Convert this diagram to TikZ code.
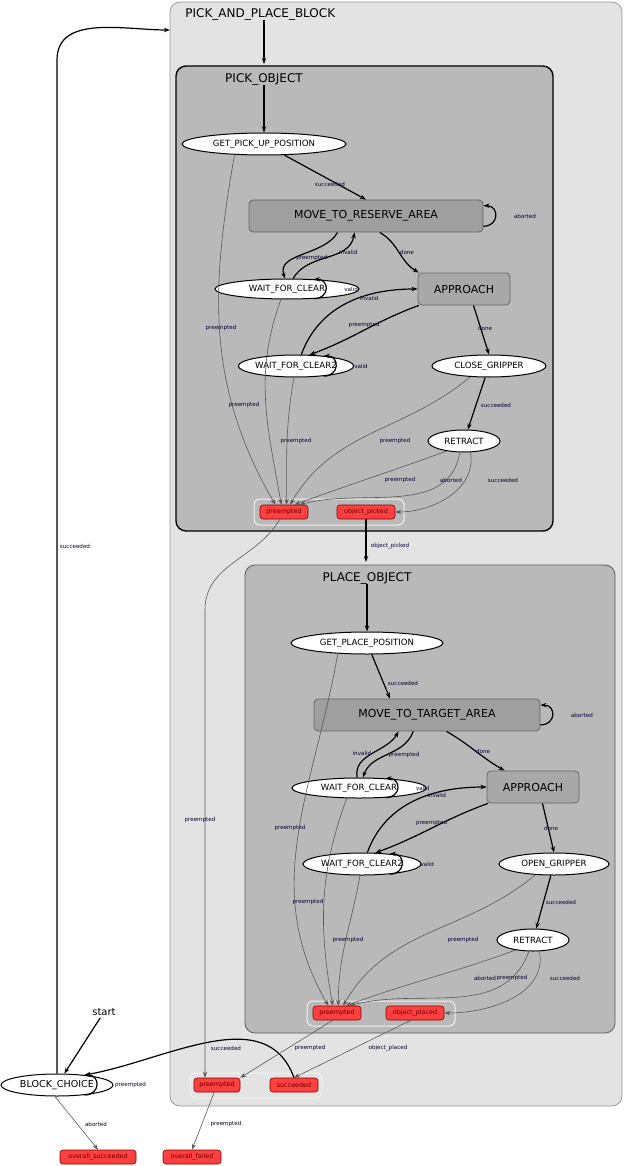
\documentclass[tikz,border=0pt]{standalone}
\usepackage{fontspec}
\setmainfont{DejaVu Sans}
\usetikzlibrary{shapes.geometric,arrows.meta}
\begin{document}
\begin{tikzpicture}[x=0.5pt,y=-0.5pt,
  st/.style={ellipse,draw,fill=white,line width=0.5pt,inner sep=0pt,font=\fontsize{4.3}{5}\selectfont},
  box/.style={rounded corners=2pt,draw=gray!80!black,fill=gray!75,line width=0.4pt,inner sep=0pt,font=\fontsize{5.5}{6}\selectfont},
  oc/.style={rounded corners=1.5pt,draw=red!50!black,fill=red!75!white,line width=0.3pt,inner sep=0pt,minimum height=7pt,font=\fontsize{3.2}{4}\selectfont,text=red!40!black},
  grp/.style={rounded corners=3pt,draw=white!90!gray,line width=0.5pt},
  tr/.style={-{Stealth[length=3pt,width=2.2pt]},line width=0.6pt},
  go/.style={-{Stealth[length=3pt,width=2.2pt]},line width=0.3pt,draw=gray!70!black},
  lbl/.style={font=\fontsize{2.8}{3}\selectfont,text=blue!20!black,inner sep=0pt},
  ttl/.style={font=\fontsize{6}{7}\selectfont,inner sep=0pt},
  sl/.style={tr,to path={.. controls +(0:16) and +(0:16) .. (\tikztotarget) \tikztonodes}}]
\useasboundingbox (0,0) rectangle (640,1166);
% containers
\draw[rounded corners=5pt,fill=gray!22,draw=gray!80,line width=0.4pt] (170,2) rectangle (622,1106);
\node[ttl,anchor=west] (tAll) at (185,14) {PICK\_AND\_PLACE\_BLOCK};
\draw[rounded corners=5pt,fill=gray!55,draw=black,line width=0.7pt] (176,66) rectangle (553,531);
\node[ttl] (tPick) at (264,79) {PICK\_OBJECT};
\draw[rounded corners=5pt,fill=gray!55,draw=gray!70!black,line width=0.4pt] (245,565) rectangle (615,1033);
\node[ttl] (tPlace) at (367,578) {PLACE\_OBJECT};
\draw[grp] (254,499) rectangle (404,525);
\draw[grp] (307,1001) rectangle (455,1026);
\draw[grp] (190,1073) rectangle (322,1098);
% pick states
\node[st,minimum width=82pt,minimum height=11pt] (gpu) at (264,144) {GET\_PICK\_UP\_POSITION};
\node[box,minimum width=117pt,minimum height=16pt] (mra) at (366,216) {MOVE\_TO\_RESERVE\_AREA};
\node[st,minimum width=72pt,minimum height=10pt] (wfc) at (287,289) {WAIT\_FOR\_CLEAR};
\node[box,minimum width=46pt,minimum height=16pt,fill=gray!68] (app) at (464,289) {APPROACH};
\node[st,minimum width=57pt,minimum height=11pt] (wfc2) at (296,366) {WAIT\_FOR\_CLEAR2};
\node[st,minimum width=57pt,minimum height=11pt] (cg) at (489,366) {CLOSE\_GRIPPER};
\node[st,minimum width=36pt,minimum height=11pt] (ret) at (464,441) {RETRACT};
\node[oc,minimum width=24pt] (pp) at (284,512) {preempted};
\node[oc,minimum width=29pt] (op) at (366,512) {object\_picked};
% place states
\node[st,minimum width=76pt,minimum height=11pt] (gpp) at (367,643) {GET\_PLACE\_POSITION};
\node[box,minimum width=113pt,minimum height=16pt] (mta) at (427,715) {MOVE\_TO\_TARGET\_AREA};
\node[st,minimum width=67pt,minimum height=10pt] (pw) at (359,788) {WAIT\_FOR\_CLEAR};
\node[box,minimum width=46pt,minimum height=16pt,fill=gray!68] (pa) at (533,787) {APPROACH};
\node[st,minimum width=59pt,minimum height=11pt] (pw2) at (362,864) {WAIT\_FOR\_CLEAR2};
\node[st,minimum width=55pt,minimum height=11pt] (og) at (554,864) {OPEN\_GRIPPER};
\node[st,minimum width=36pt,minimum height=11pt] (pr) at (533,940) {RETRACT};
\node[oc,minimum width=24pt] (plp) at (337,1013) {preempted};
\node[oc,minimum width=29pt] (opl) at (415,1013) {object\_placed};
% outer outcomes
\node[oc,minimum width=23pt] (ap) at (217,1085) {preempted};
\node[oc,minimum width=24pt] (as) at (294,1085) {succeeded};
\node[st,minimum width=56pt,minimum height=11pt,font=\fontsize{4.8}{5}\selectfont] (bc) at (57,1085) {BLOCK\_CHOICE};
\node[font=\fontsize{5}{6}\selectfont,inner sep=1pt] (start) at (104,1012) {start};
\node[oc,minimum width=38pt] (os) at (98,1157) {overall\_succeeded};
\node[oc,minimum width=29pt] (of) at (192,1157) {overall\_failed};
\coordinate (allIn) at (170,30);
% top level
\draw[tr] (start) -- (bc);
\draw[tr] (bc.north) -- (57,60) to[out=90,in=180] (allIn) node[lbl] at (75,546) {succeeded};
\draw[sl] (bc.-20) to node[lbl,right,xshift=9pt] {preempted} (bc.20);
\draw[go] (bc.-100) -- (os.north) node[lbl] at (96,1124) {aborted};
\draw[go] (ap) -- (of.north) node[lbl] at (226,1124) {preempted};
\draw[tr] (as.north) to[out=110,in=10] (bc.20) node[lbl] at (226,1048) {succeeded};
\draw[tr] (tAll.south -| 264,0) -- (264,64);
\draw[tr] (tPick) -- (gpu);
% pick transitions
\draw[tr] (gpu) -- (mra.north) node[lbl] at (330,184) {succeeded};
\draw[sl] (mra.-5) to node[lbl,right,xshift=9pt] {aborted} (mra.5);
\draw[tr] (mra.-150) to[out=-120,in=110] node[lbl,pos=.6,right] {preempted} (wfc.100);
\draw[tr] (wfc.60) to[out=60,in=-100] node[lbl,pos=.65,right] {invalid} (mra.-125);
\draw[tr] (mra.-50) to[out=-30,in=150] node[lbl,right] {done} (app.160);
\draw[sl] (wfc.-20) to node[lbl,right,xshift=9pt] {valid} (wfc.20);
\draw[tr] (app.-160) to[out=-160,in=20] node[lbl,pos=.5,above,yshift=1pt] {preempted} (wfc2.40);
\draw[tr] (wfc2.65) to[out=70,in=180] node[lbl,pos=.6,right] {invalid} (app.west);
\draw[sl] (wfc2.-20) to node[lbl,right,xshift=9pt] {valid} (wfc2.20);
\draw[tr] (app.-60) -- (cg.north) node[lbl] at (485,328) {done};
\draw[tr] (cg) -- (ret) node[lbl] at (496,405) {succeeded};
\draw[go] (ret.-60) to[out=-80,in=0] (op.east) node[lbl] at (503,480) {succeeded};
\draw[go] (ret.-110) to[out=-100,in=15] (pp.25) node[lbl] at (451,480) {aborted};
\draw[go] (ret.-150) to[out=-160,in=20] (pp.35) node[lbl] at (400,480) {preempted};
\draw[go] (gpu.-160) to[out=-100,in=120] (pp.140) node[lbl] at (221,328) {preempted};
\draw[go] (wfc.-120) to[out=-110,in=100] (pp.110) node[lbl] at (244,405) {preempted};
\draw[go] (wfc2.-100) to[out=-100,in=90] (pp.70) node[lbl] at (296,441) {preempted};
\draw[go] (cg.-150) to[out=-140,in=60] (pp.50) node[lbl] at (395,441) {preempted};
\draw[tr] (op) -- (366,562) node[lbl] at (390,546) {object\_picked};
\draw[go] (pp.-120) to[out=-120,in=90] (205,610) -- (ap.north -| 205,0) node[lbl] at (200,820) {preempted};
% place transitions
\draw[tr] (tPlace) -- (gpp);
\draw[tr] (gpp) -- (mta.north -| 390,0) node[lbl] at (403,683) {succeeded};
\draw[sl] (mta.-5) to node[lbl,right,xshift=9pt] {aborted} (mta.5);
\draw[tr] (mta.-130) to[out=-110,in=70] node[lbl,pos=.5,right] {preempted} (pw.70);
\draw[tr] (pw.100) to[out=100,in=-120] node[lbl,pos=.5,left] {invalid} (mta.-150);
\draw[tr] (mta.-40) to[out=-30,in=150] node[lbl,right] {done} (pa.150);
\draw[sl] (pw.-20) to node[lbl,right,xshift=9pt] {valid} (pw.20);
\draw[tr] (pa.-160) to[out=-160,in=20] node[lbl,pos=.5,above,yshift=1pt] {preempted} (pw2.40);
\draw[tr] (pw2.65) to[out=70,in=180] node[lbl,pos=.6,right] {invalid} (pa.west);
\draw[sl] (pw2.-20) to node[lbl,right,xshift=9pt] {valid} (pw2.20);
\draw[tr] (pa.-60) -- (og.north) node[lbl] at (551,828) {done};
\draw[tr] (og) -- (pr) node[lbl] at (561,902) {succeeded};
\draw[go] (pr.-60) to[out=-80,in=0] (opl.east) node[lbl] at (565,978) {succeeded};
\draw[go] (pr.-110) to[out=-110,in=15] (plp.30) node[lbl] at (512,978) {preempted};
\draw[go] (pr.-150) to[out=-160,in=20] (plp.40) node[lbl] at (485,978) {aborted};
\draw[go] (gpp.-160) to[out=-100,in=120] (plp.140) node[lbl] at (290,828) {preempted};
\draw[go] (pw.-140) to[out=-110,in=100] (plp.120) node[lbl] at (308,902) {preempted};
\draw[go] (pw2.-100) to[out=-100,in=90] (plp.80) node[lbl] at (348,940) {preempted};
\draw[go] (og.-150) to[out=-140,in=60] (plp.50) node[lbl] at (463,940) {preempted};
\draw[go] (plp.-120) -- (ap.north east) node[lbl] at (310,1048) {preempted};
\draw[go] (opl.-120) -- (as.north) node[lbl] at (388,1048) {object\_placed};
\end{tikzpicture}
\end{document}
